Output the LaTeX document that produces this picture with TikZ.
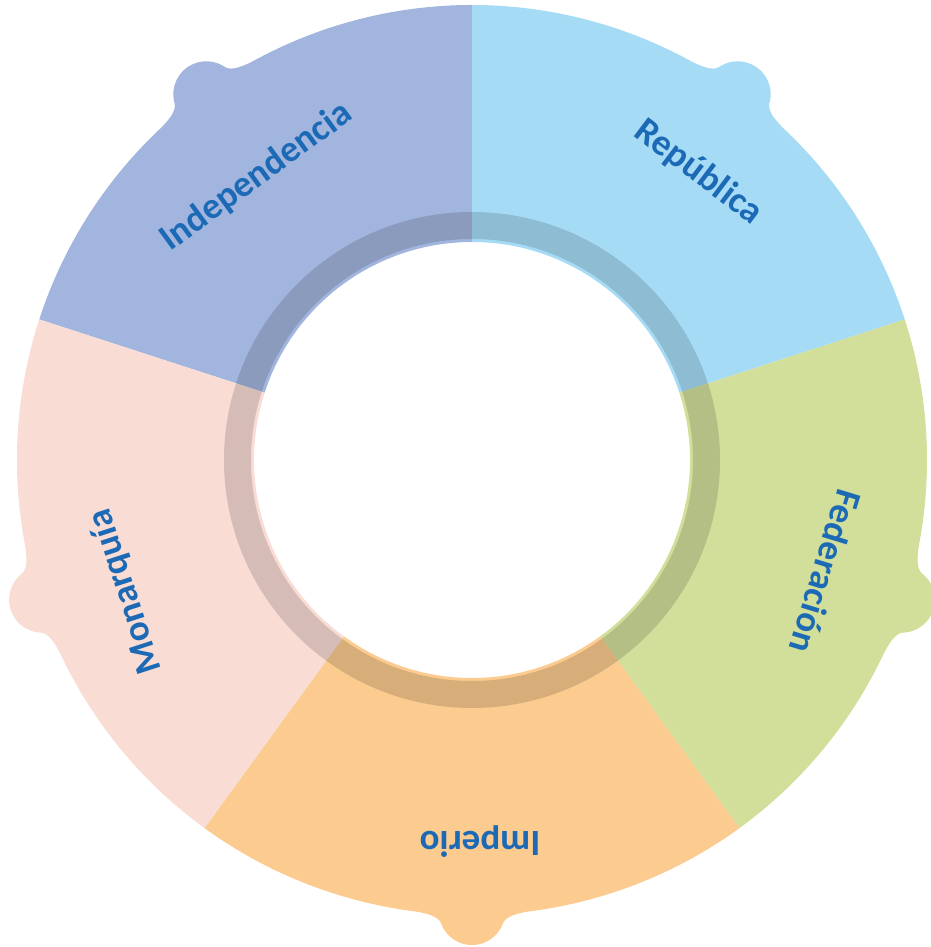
\documentclass[tikz,border=0pt]{standalone}
\usepackage{fontspec}
\setmainfont{Carlito}
\usepackage{tikz}
\usetikzlibrary{positioning}

\definecolor{indepcol}{RGB}{161,181,222}
\definecolor{repubcol}{RGB}{166,219,246}
\definecolor{federcol}{RGB}{209,223,155}
\definecolor{impercol}{RGB}{251,203,143}
\definecolor{monarcol}{RGB}{249,220,212}
\definecolor{labelblue}{RGB}{28,106,182}

\begin{document}
\begin{tikzpicture}[
        x=1pt, y=1pt,
        lbl/.style={text=labelblue, font=\bfseries\fontsize{37}{40}\selectfont, inner sep=0pt},
        ringpart/.pic={
            \fill[pic actions] (54:218) -- (54:455)
                arc[start angle=54, end angle=82.5, radius=455]
                .. controls +(172.5:12) and +(-70:8) .. (31.0,463.3)
                arc[start angle=20, end angle=160, radius=33]
                .. controls +(-110:8) and +(7.5:12) .. (97.5:455)
                arc[start angle=97.5, end angle=126, radius=455]
                -- (126:218) arc[start angle=126, end angle=54, radius=218] -- cycle;
        }
    ]
    \useasboundingbox (-472,-487) rectangle (458,460);

    % Segments
    \pic[fill=indepcol, rotate=36] {ringpart};
    \pic[fill=repubcol, rotate=-36] {ringpart};
    \pic[fill=federcol, rotate=-108] {ringpart};
    \pic[fill=impercol, rotate=180] {ringpart};
    \pic[fill=monarcol, rotate=108] {ringpart};

    % Shadow ring
    \fill[black, opacity=.14, even odd rule] (0,0) circle (248) circle (221);

    % Labels
    \node (indep) [lbl, rotate=36] at (127.3:356) {Independencia};
    \node (repub) [lbl, rotate=-37] at (51.8:366) {República};
    \node (feder) [lbl, rotate=-107] at (-17.5:371) {Federación};
    \node (imper) [lbl, rotate=180] at (-88.8:382) {Imperio};
    \node (monar) [lbl, rotate=108] at (200.8:370) {Monarquía};

\end{tikzpicture}
\end{document}
